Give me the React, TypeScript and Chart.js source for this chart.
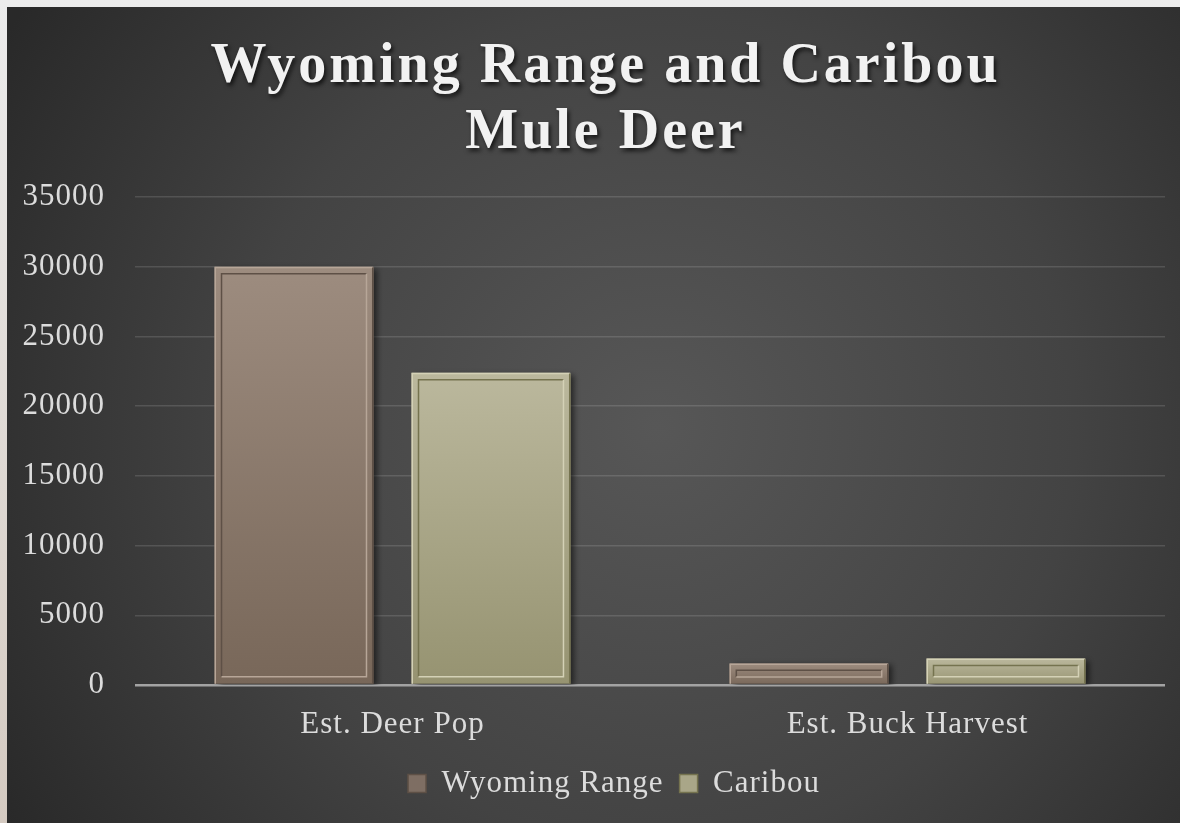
import React, { useEffect, useRef } from "react";
import { Chart, registerables } from "chart.js";

Chart.register(...registerables);

const titleLines = ["Wyoming Range and Caribou", "Mule Deer"];
const categories = ["Est. Deer Pop", "Est. Buck Harvest"];
const seriesNames = ["Wyoming Range", "Caribou"];
const wyomingValues = [30000, 1550];
const caribouValues = [22400, 1900];
const yTicks = [0, 5000, 10000, 15000, 20000, 25000, 30000, 35000];

const palette = [
  { top: "#9d8c7f", bottom: "#786759", light: "#b7a698", dark: "#5e5046", legend: "#7e6e63" },
  { top: "#bbb89d", bottom: "#969371", light: "#d4d1b6", dark: "#75734f", legend: "#a9a688" },
];

const FONT = "'Liberation Serif', 'DejaVu Serif', serif";

const bgPlugin = {
  id: "bgPlugin",
  beforeInit(chart: any) {
    chart.ctx.letterSpacing = "1px";
  },
  afterLayout(chart: any) {
    const lg = chart.legend;
    if (lg) {
      lg.left += 18;
      lg.right += 18;
    }
  },
  beforeDraw(chart: any) {
    const { ctx, width, height } = chart;
    ctx.save();
    const g = ctx.createRadialGradient(650, 420, 0, 650, 420, 760);
    g.addColorStop(0, "#575757");
    g.addColorStop(0.55, "#434343");
    g.addColorStop(1, "#292929");
    ctx.fillStyle = g;
    ctx.fillRect(0, 0, width, height);
    ctx.restore();
    ctx.letterSpacing = "1px";
  },
  beforeDatasetsDraw(chart: any) {
    const ctx = chart.ctx;
    ctx.save();
    ctx.shadowColor = "rgba(0,0,0,0.55)";
    ctx.shadowBlur = 6;
    ctx.shadowOffsetX = 4;
    ctx.shadowOffsetY = 2;
  },
  afterDatasetsDraw(chart: any) {
    const ctx = chart.ctx;
    ctx.restore();
    ctx.save();
    chart.data.datasets.forEach((_: any, di: number) => {
      const meta = chart.getDatasetMeta(di);
      const pal = palette[di];
      meta.data.forEach((bar: any) => {
        const w = bar.width;
        const left = bar.x - w / 2;
        const right = bar.x + w / 2;
        const top = Math.min(bar.y, bar.base);
        const bottom = Math.max(bar.y, bar.base);
        const h = bottom - top;
        const inset = Math.min(7, h / 3);
        ctx.lineWidth = 1.5;
        ctx.strokeStyle = pal.light;
        ctx.beginPath();
        ctx.moveTo(left + 0.75, bottom);
        ctx.lineTo(left + 0.75, top + 0.75);
        ctx.lineTo(right - 0.75, top + 0.75);
        ctx.stroke();
        ctx.strokeStyle = pal.dark;
        ctx.beginPath();
        ctx.moveTo(right - 0.75, top + 0.75);
        ctx.lineTo(right - 0.75, bottom);
        ctx.stroke();
        const il = left + inset, ir = right - inset, it = top + inset, ib = bottom - inset;
        ctx.strokeStyle = pal.dark;
        ctx.beginPath();
        ctx.moveTo(il, ib);
        ctx.lineTo(il, it);
        ctx.lineTo(ir, it);
        ctx.stroke();
        ctx.strokeStyle = pal.light;
        ctx.beginPath();
        ctx.moveTo(ir, it);
        ctx.lineTo(ir, ib);
        ctx.lineTo(il, ib);
        ctx.stroke();
      });
    });
    ctx.restore();
  },
  afterDraw(chart: any) {
    const ctx = chart.ctx;
    ctx.save();
    ctx.font = `bold 56px ${FONT}`;
    ctx.letterSpacing = "3px";
    ctx.fillStyle = "#f2f2f2";
    ctx.textAlign = "left";
    ctx.textBaseline = "alphabetic";
    ctx.shadowColor = "rgba(0,0,0,0.7)";
    ctx.shadowBlur = 4;
    ctx.shadowOffsetX = 2;
    ctx.shadowOffsetY = 3;
    const baselines = [75, 141];
    const cx = 597;
    titleLines.forEach((line, i) => {
      const w = ctx.measureText(line).width - 3;
      ctx.fillText(line, cx - w / 2, baselines[i]);
    });
    ctx.restore();
    ctx.letterSpacing = "1px";
  },
};

function barFill(di: number) {
  return (c: any) => {
    const chart = c.chart;
    const pal = palette[di];
    if (!chart.chartArea || c.raw === undefined || !chart.scales.y) return pal.top;
    const y = chart.scales.y;
    const top = y.getPixelForValue(c.raw);
    const base = y.getPixelForValue(0);
    if (!isFinite(top) || !isFinite(base) || Math.abs(base - top) < 1) return pal.top;
    const g = chart.ctx.createLinearGradient(0, top, 0, base);
    g.addColorStop(0, pal.top);
    g.addColorStop(1, pal.bottom);
    return g;
  };
}

export default function App() {
  const ref = useRef<HTMLCanvasElement | null>(null);
  useEffect(() => {
    document.body.style.margin = "0";
    document.body.style.background = "linear-gradient(#ececec, #d4cac1)";
    document.body.style.height = "823px";
    document.body.style.overflow = "hidden";
    const canvas = ref.current!;
    const chart = new Chart(canvas, {
      type: "bar",
      data: {
        labels: categories,
        datasets: [
          {
            label: seriesNames[0],
            data: wyomingValues,
            backgroundColor: barFill(0),
            borderWidth: 0,
            categoryPercentage: 0.765,
            barPercentage: 0.807,
          },
          {
            label: seriesNames[1],
            data: caribouValues,
            backgroundColor: barFill(1),
            borderWidth: 0,
            categoryPercentage: 0.765,
            barPercentage: 0.807,
          },
        ],
      },
      options: {
        animation: false,
        responsive: false,
        maintainAspectRatio: false,
        devicePixelRatio: 1,
        layout: { padding: { top: 190, right: 15, left: 0, bottom: 14 } },
        plugins: {
          title: { display: false },
          tooltip: { enabled: false },
          legend: {
            position: "bottom",
            labels: {
              color: "#dcdcdc",
              font: { family: FONT, size: 31 },
              boxWidth: 18,
              boxHeight: 18,
              padding: 16,
              generateLabels: () =>
                seriesNames.map((n, i) => ({
                  text: n,
                  fillStyle: palette[i].legend,
                  strokeStyle: palette[i].dark,
                  lineWidth: 1.5,
                  fontColor: "#dcdcdc",
                  hidden: false,
                  datasetIndex: i,
                })),
            },
          },
        },
        scales: {
          x: {
            grid: { display: false },
            border: { display: false },
            ticks: {
              color: "#dcdcdc",
              font: { family: FONT, size: 31 },
              padding: 13,
            },
            afterFit: (s: any) => {
              s.height = 67;
            },
          },
          y: {
            min: 0,
            max: 35000,
            afterBuildTicks: (s: any) => {
              s.ticks = yTicks.map((v) => ({ value: v }));
            },
            grid: {
              drawTicks: false,
              color: (c: any) => (c.tick && c.tick.value === 0 ? "#a3a3a3" : "rgba(255,255,255,0.13)"),
              lineWidth: (c: any) => (c.tick && c.tick.value === 0 ? 2.5 : 1.5),
            },
            border: { display: false },
            ticks: {
              color: "#dcdcdc",
              font: { family: FONT, size: 31 },
              padding: 30,
              callback: (v: any) => String(v),
            },
            afterFit: (s: any) => {
              s.width = 128;
            },
          },
        },
      },
      plugins: [bgPlugin],
    } as any);
    return () => chart.destroy();
  }, []);
  return (
    <div style={{ position: "absolute", left: 7, top: 7, width: 1173, height: 816 }}>
      <canvas ref={ref} width={1173} height={816} style={{ display: "block", width: 1173, height: 816 }} />
    </div>
  );
}
